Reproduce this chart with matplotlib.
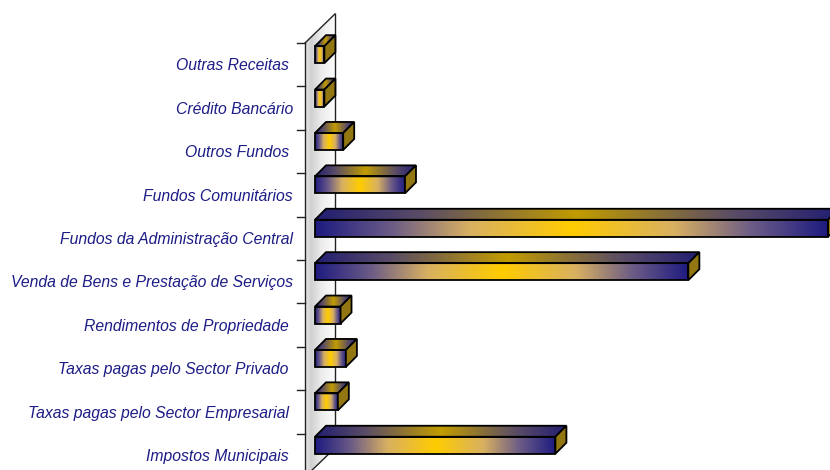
import numpy as np
import matplotlib
matplotlib.use('Agg')
import matplotlib.pyplot as plt
from matplotlib.colors import LinearSegmentedColormap
from matplotlib.patches import Polygon

# receitas por origem (% do total)
categories = ['Outras Receitas ', 'Crédito Bancário', 'Outros Fundos ',
              'Fundos Comunitários', 'Fundos da Administração Central',
              'Venda de Bens e Prestação de Serviços', 'Rendimentos de Propriedade ',
              'Taxas pagas pelo Sector Privado ', 'Taxas pagas pelo Sector Empresarial ',
              'Impostos Municipais ']
values = [0.7, 0.7, 2.1, 6.7, 38.2, 27.8, 1.9, 2.3, 1.7, 17.9]

W, H = 830, 470
fig = plt.figure(figsize=(W / 100, H / 100), dpi=100)
ax = fig.add_axes([0, 0, 1, 1])
XL, XR = -22.71, 39.09
YB, YT = 9.34, -1.49
sx = W / (XR - XL)          # px per unit on x
sy = H / (YB - YT)          # px per category

def px(dx, dy):
    # pixel offset -> data offset (up on screen is -y)
    return dx / sx, -dy / sy

front_cm = LinearSegmentedColormap.from_list('front', [
    (0, '#1e1b80'), (0.15, '#6c5c86'), (0.3, '#d8b062'), (0.5, '#ffcc00'),
    (0.7, '#d8b062'), (0.85, '#6c5c86'), (1, '#1e1b80')])
top_cm = LinearSegmentedColormap.from_list('top', [
    (0, '#221e72'), (0.2, '#5a4c66'), (0.5, '#c29c00'),
    (0.8, '#5a4c66'), (1, '#221e72')])
wall_cm = LinearSegmentedColormap.from_list('wall', [
    (0, '#e8e8e8'), (0.2, '#d0d0d0'), (0.55, '#ececec'), (1, '#fdfdfd')])
grad = np.linspace(0, 1, 256)[None, :]

n = len(categories)
y_top_wall = -0.5
y_bot_wall = n - 0.5
wdx, wdy = px(30, 29)

# side wall with grey shading
wall = Polygon([(0, y_top_wall), (wdx, y_top_wall + wdy), (wdx, y_bot_wall + wdy),
                (0, y_bot_wall)], closed=True, facecolor='none', edgecolor='none')
ax.add_patch(wall)
im = ax.imshow(grad, cmap=wall_cm, aspect='auto', extent=[0, wdx, y_bot_wall, y_top_wall + wdy],
               zorder=0)
im.set_clip_path(wall)
ax.plot([0, 0], [y_top_wall, y_bot_wall], color='#222222', lw=1, zorder=1)
ax.plot([0, wdx], [y_top_wall, y_top_wall + wdy], color='#222222', lw=1, zorder=1)
ax.plot([wdx, wdx], [y_top_wall + wdy, y_bot_wall + wdy], color='#222222', lw=1, zorder=1)
ax.plot([0, wdx], [y_bot_wall, y_bot_wall + wdy], color='#222222', lw=1, zorder=1)

# category ticks
tick_len, _ = px(8, 0)
for b in np.arange(n + 1) - 0.5:
    ax.plot([-tick_len, 0], [b, b], color='#222222', lw=1, zorder=1)

# 3D bars
half = 8.5 / sy
ox, oy = px(10, 10)
ddx, ddy = px(11, 11)
for i, (lab, v) in enumerate(zip(categories, values)):
    x0, x1 = ox, ox + v
    yt, yb = i - half + oy, i + half + oy
    front = Polygon([(x0, yt), (x1, yt), (x1, yb), (x0, yb)], closed=True,
                    facecolor='none', edgecolor='black', lw=1.3, zorder=4)
    ax.add_patch(front)
    fim = ax.imshow(grad, cmap=front_cm, aspect='auto', extent=[x0, x1, yb, yt], zorder=3)
    fim.set_clip_path(front)
    top = Polygon([(x0, yt), (x1, yt), (x1 + ddx, yt + ddy), (x0 + ddx, yt + ddy)],
                  closed=True, facecolor='none', edgecolor='black', lw=1.3, zorder=4)
    ax.add_patch(top)
    tim = ax.imshow(grad, cmap=top_cm, aspect='auto',
                    extent=[x0, x1 + ddx, yt, yt + ddy], zorder=3)
    tim.set_clip_path(top)
    side = Polygon([(x1, yt), (x1 + ddx, yt + ddy), (x1 + ddx, yb + ddy), (x1, yb)],
                   closed=True, facecolor='#927612', edgecolor='black', lw=1.3, zorder=4)
    ax.add_patch(side)
    lx, _ = px(12, 0)
    ax.text(-lx, i + 0.03, lab, ha='right', va='center', fontsize=11.3, style='italic',
            family='Liberation Sans', color='#1c1c86')

ax.set_xlim(XL, XR)
ax.set_ylim(YB, YT)
ax.axis('off')
fig.savefig('out.png', dpi=100, facecolor='white')
